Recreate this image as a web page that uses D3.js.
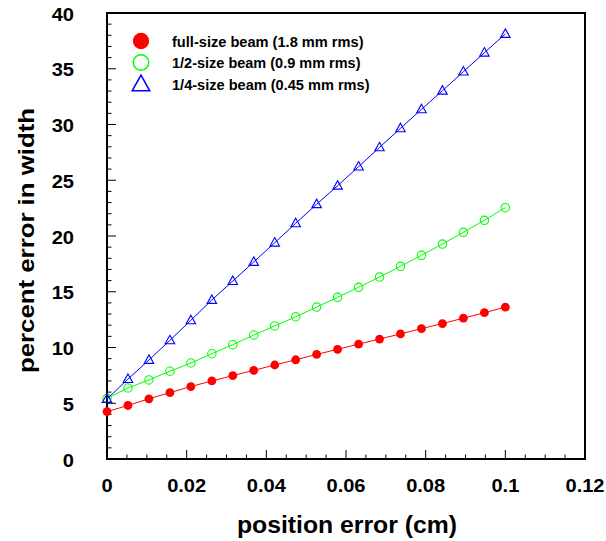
<!DOCTYPE html>
<html><head><meta charset="utf-8">
<script src="https://cdn.jsdelivr.net/npm/d3@7"></script>
<style>body{margin:0;background:#fff}text{font-family:"Liberation Sans",Arial,sans-serif;font-weight:bold;fill:#000}</style>
</head><body>
<svg id="c" width="606" height="541"></svg>
<script>
const xValues = [0, 0.00526, 0.01053, 0.01579, 0.02105, 0.02632, 0.03158, 0.03684, 0.04211, 0.04737, 0.05263, 0.05789, 0.06316, 0.06842, 0.07368, 0.07895, 0.08421, 0.08947, 0.09474, 0.1];
const fullSize = [4.25, 4.8, 5.4, 5.95, 6.5, 7.0, 7.48, 7.95, 8.43, 8.9, 9.38, 9.84, 10.3, 10.76, 11.22, 11.69, 12.15, 12.63, 13.12, 13.62];
const halfSize = [5.44, 6.37, 7.09, 7.87, 8.61, 9.44, 10.25, 11.12, 11.93, 12.76, 13.63, 14.5, 15.4, 16.32, 17.28, 18.27, 19.28, 20.33, 21.41, 22.54];
const quarterSize = [5.38, 7.17, 8.88, 10.64, 12.44, 14.26, 15.96, 17.67, 19.4, 21.14, 22.85, 24.51, 26.22, 27.95, 29.66, 31.36, 33.03, 34.74, 36.44, 38.12];
const seriesNames = ["full-size beam (1.8 mm rms)", "1/2-size beam (0.9 mm rms)", "1/4-size beam (0.45 mm rms)"];
const xTickLabels = ["0", "0.02", "0.04", "0.06", "0.08", "0.1", "0.12"];
const yTickLabels = ["0", "5", "10", "15", "20", "25", "30", "35", "40"];

const svg = d3.select("#c");
const L = 107, R = 585, T = 13, B = 459;
const x = d3.scaleLinear().domain([0, 0.12]).range([L, R]);
const y = d3.scaleLinear().domain([0, 40]).range([B, T]);

// ticks
const g = svg.append("g");
const xMinor = d3.range(0, 0.12001, 0.005);
g.selectAll("line.xt").data(xMinor).join("line")
  .attr("x1", d => x(d)).attr("x2", d => x(d))
  .attr("y1", B).attr("y2", (d, i) => B - (i % 4 === 0 ? 9 : 4.5))
  .attr("stroke", "#000").attr("stroke-width", 1);
const yMinor = d3.range(0, 40.001, 1);
g.selectAll("line.yt").data(yMinor).join("line")
  .attr("y1", d => y(d)).attr("y2", d => y(d))
  .attr("x1", L).attr("x2", (d, i) => L + (i % 5 === 0 ? 9 : 4.5))
  .attr("stroke", "#000").attr("stroke-width", 1);

// frame
svg.append("rect").attr("x", L).attr("y", T).attr("width", R - L).attr("height", B - T)
  .attr("fill", "none").attr("stroke", "#000").attr("stroke-width", 2);

// tick labels
xTickLabels.forEach(t => {
  svg.append("text").attr("transform", `translate(${x(+t)},491.5) scale(1.08,1)`)
    .attr("text-anchor", "middle").attr("font-size", 18.6).text(t);
});
yTickLabels.forEach(t => {
  svg.append("text").attr("transform", `translate(74,${y(+t) + 7.5}) scale(1.08,1)`)
    .attr("text-anchor", "end").attr("font-size", 18.6).text(t);
});

// axis titles
svg.append("text").attr("x", 237).attr("y", 533).attr("font-size", 23)
  .attr("textLength", 220).attr("lengthAdjust", "spacingAndGlyphs").text("position error (cm)");
svg.append("text").attr("transform", "translate(34,373) rotate(-90)").attr("font-size", 22.5)
  .attr("textLength", 265).attr("lengthAdjust", "spacingAndGlyphs").text("percent error in width");

// series
const series = [
  {vals: fullSize, color: "#ff0000", type: "dot"},
  {vals: halfSize, color: "#00ff00", type: "circle"},
  {vals: quarterSize, color: "#0000ff", type: "tri"}
];
const line = d3.line().x(d => x(d[0])).y(d => y(d[1]));
function tri(cx, cy, w, h) {
  return `M${cx},${cy - h * 0.6}L${cx + w / 2},${cy + h * 0.4}L${cx - w / 2},${cy + h * 0.4}Z`;
}
function marker(sel, s, cx, cy, k) {
  if (s.type === "dot") sel.append("circle").attr("cx", cx).attr("cy", cy).attr("r", 4.4 * k).attr("fill", s.color);
  else if (s.type === "circle") sel.append("circle").attr("cx", cx).attr("cy", cy).attr("r", 4.2 * k).attr("fill", "none").attr("stroke", s.color).attr("stroke-width", 1.1 * Math.sqrt(k));
  else sel.append("path").attr("d", tri(cx, cy, 9.5 * k, 8.5 * k)).attr("fill", "none").attr("stroke", s.color).attr("stroke-width", 1.1 * Math.sqrt(k));
}
series.forEach(s => {
  const pts = xValues.map((xv, i) => [xv, s.vals[i]]);
  svg.append("path").attr("d", line(pts)).attr("fill", "none").attr("stroke", s.color).attr("stroke-width", 1);
  const mg = svg.append("g");
  pts.forEach(p => marker(mg, s, x(p[0]), y(p[1]), 1));
});

// legend
const legY = [41, 62.5, 84.5];
const legW = [191.5, 188.5, 197.5];
series.forEach((s, i) => {
  marker(svg, s, 141, legY[i], 1.85);
  svg.append("text").attr("x", 172).attr("y", legY[i] + 5.7).attr("font-size", 15)
    .attr("textLength", legW[i]).attr("lengthAdjust", "spacingAndGlyphs").text(seriesNames[i]);
});
</script>
</body></html>
